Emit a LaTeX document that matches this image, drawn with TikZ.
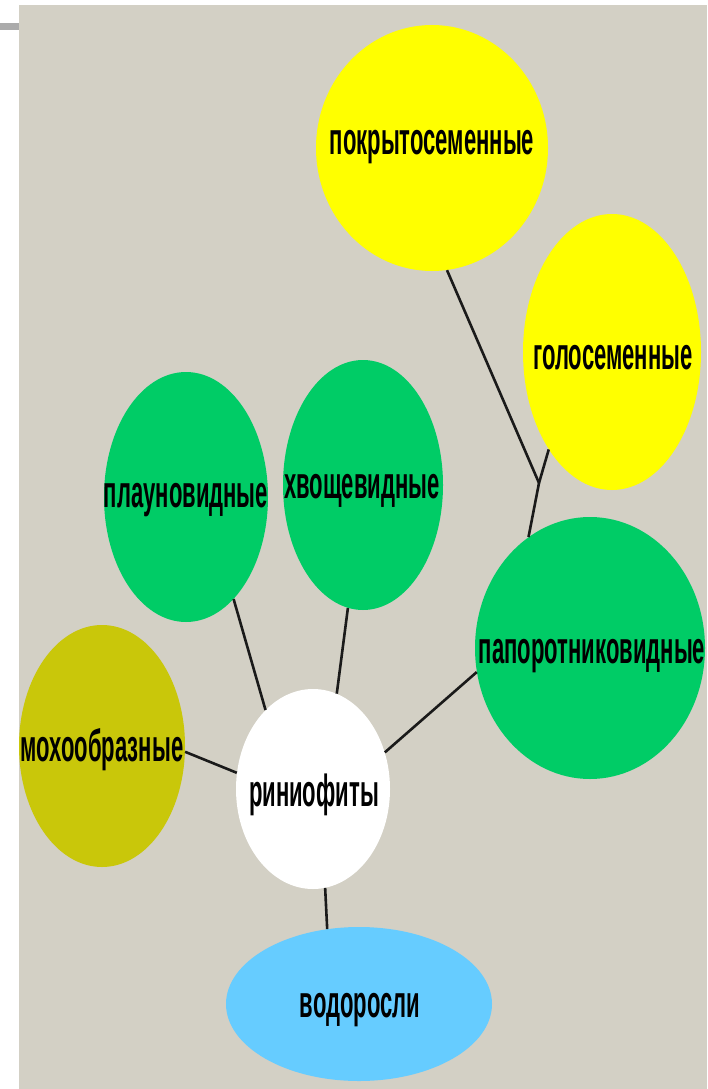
\documentclass[tikz,border=0pt]{standalone}
\usepackage{graphicx}
\usepackage{fontspec}
\setmainfont{Liberation Sans}
\usetikzlibrary{shapes.geometric}
\definecolor{bg}{HTML}{D3D0C5}
\definecolor{ylw}{HTML}{FFFF00}
\definecolor{grn}{HTML}{00CC66}
\definecolor{olv}{HTML}{C9C70A}
\definecolor{lblue}{HTML}{66CCFF}
\definecolor{bar}{HTML}{ABABAB}
\definecolor{ink}{HTML}{1A1A1A}
\newcommand\lbl[1]{\scalebox{0.49}[1]{\bfseries #1}}
\tikzset{
  blob/.style={ellipse, inner sep=0pt, font=\fontsize{45}{45}\selectfont, text=black},
  link/.style={draw=ink, line width=2.6pt}
}
\begin{document}
\begin{tikzpicture}[x=1pt,y=-1pt]
\useasboundingbox (0,0) rectangle (707,1089);
\fill[white] (0,0) rectangle (707,1089);
\fill[bg] (19,5) rectangle (707,1089);
\fill[bar] (0,23) rectangle (19,30);

\node[blob, fill=ylw, minimum width=232pt, minimum height=246pt] (pk) at (432,148) {};
\node[blob, fill=ylw, minimum width=178pt, minimum height=276pt] (gs) at (612,352) {};
\node[blob, fill=grn, minimum width=164pt, minimum height=250pt] (pl) at (186,497) {};
\node[blob, fill=grn, minimum width=160pt, minimum height=250pt] (hv) at (363,485) {};
\node[blob, fill=grn, minimum width=230pt, minimum height=262pt] (pp) at (590,648) {};
\node[blob, fill=olv, minimum width=166pt, minimum height=242pt] (mh) at (102,746) {};
\node[blob, fill=white, minimum width=154pt, minimum height=200pt] (rn) at (313,789) {};
\node[blob, fill=lblue, minimum width=266pt, minimum height=154pt] (vd) at (359,1004) {};

\coordinate (J) at (539,483);
\draw[link] (pk.-83) -- (J);
\draw[link] (gs.-123) -- (J);
\draw[link] (J) -- (pp.119);
\draw[link] (pl.-65) -- (rn.121);
\draw[link] (hv.-97) -- (rn.76);
\draw[link] (pp.192) -- (rn.27);
\draw[link] (mh.-4) -- (rn.168);
\draw[link] (rn.-83) -- (vd.113);

\node[blob] (tpk) at (432,147) {\lbl{покрытосеменные}};
\node[blob] (tgs) at (613,358) {\lbl{голосеменные}};
\node[blob] (tpl) at (186,500) {\lbl{плауновидные}};
\node[blob] (thv) at (362,491) {\lbl{хвощевидные}};
\node[blob] (tpp) at (592,656) {\lbl{папоротниковидные}};
\node[blob] (tmh) at (102,750) {\lbl{мохообразные}};
\node[blob] (trn) at (314,795) {\lbl{риниофиты}};
\node[blob] (tvd) at (360,1010) {\lbl{водоросли}};
\end{tikzpicture}
\end{document}
